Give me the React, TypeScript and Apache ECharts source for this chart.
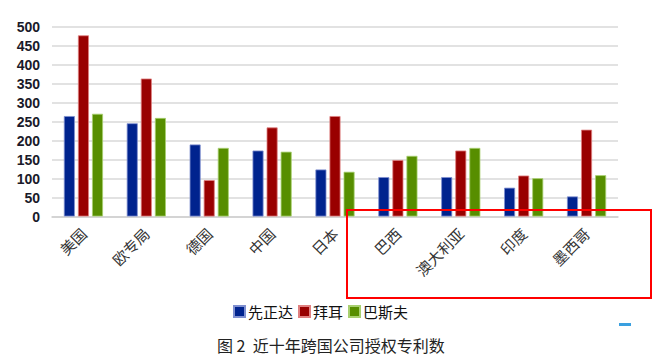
import React, { useEffect, useRef } from "react";
import * as echarts from "echarts";

const categories = ["美国", "欧专局", "德国", "中国", "日本", "巴西", "澳大利亚", "印度", "墨西哥"];
const seriesNames = ["先正达", "拜耳", "巴斯夫"];
const syngenta = [265, 246, 190, 174, 124, 104, 104, 76, 53];
const bayer = [478, 364, 96, 235, 265, 149, 174, 108, 229];
const basf = [271, 260, 181, 171, 118, 160, 181, 101, 109];
const colors = ["#00238e", "#990000", "#578e00"];
const borders = ["#7f8fd0", "#e08080", "#a8d070"];
const yTicks = { min: 0, max: 500, interval: 50 };
const caption = "图 2  近十年跨国公司授权专利数";

export default function App() {
  const ref = useRef<HTMLDivElement>(null);
  useEffect(() => {
    if (!ref.current) return;
    const chart = echarts.init(ref.current, null, { renderer: "svg" });
    const data = [syngenta, bayer, basf];
    chart.setOption({
      animation: false,
      backgroundColor: "#ffffff",
      textStyle: { fontFamily: "Noto Sans CJK SC" },
      grid: { left: 52, right: 46, top: 27, bottom: 144.5, containLabel: false },
      legend: {
        data: seriesNames,
        left: 228,
        top: 299,
        itemWidth: 11,
        itemHeight: 11,
        itemGap: 5,
        icon: "rect",
        textStyle: { fontSize: 15, color: "#111", fontFamily: "Noto Sans CJK SC", padding: [0, 0, 0, -2] },
      },
      xAxis: {
        type: "category",
        data: categories,
        axisLine: { lineStyle: { color: "#d0d0d0", width: 1.5 } },
        axisTick: { show: false },
        axisLabel: {
          rotate: 45,
          fontSize: 15,
          color: "#333",
          margin: 14,
          interval: 0,
          fontFamily: "Noto Sans CJK SC",
        },
      },
      yAxis: {
        type: "value",
        ...yTicks,
        axisLine: { show: false },
        axisTick: { show: false },
        splitLine: { lineStyle: { color: "#d8d8d8", width: 1.5 } },
        axisLabel: {
          fontSize: 14,
          fontWeight: "bold",
          color: "#1a1a2a",
          margin: 12,
          fontFamily: "Liberation Sans",
        },
      },
      series: seriesNames.map((name, i) => ({
        name,
        type: "bar",
        data: data[i],
        barWidth: 11,
        barGap: "28%",
        itemStyle: { color: colors[i], borderColor: borders[i], borderWidth: 0.8 },
      })),
      graphic: [
        {
          type: "rect",
          shape: { x: 347, y: 210, width: 304, height: 88 },
          style: { fill: "none", stroke: "#ff0000", lineWidth: 2 },
          z: 100,
        },
        {
          type: "rect",
          shape: { x: 619, y: 323, width: 12, height: 3 },
          style: { fill: "#3aa0e0" },
        },
        {
          type: "text",
          left: 217,
          top: 337,
          style: { text: caption, fontSize: 16, fill: "#222", fontFamily: "Noto Sans CJK SC" },
        },
      ],
    });
    return () => chart.dispose();
  }, []);
  return <div ref={ref} style={{ position: "fixed", left: 0, top: 0, width: 664, height: 361 }} />;
}
